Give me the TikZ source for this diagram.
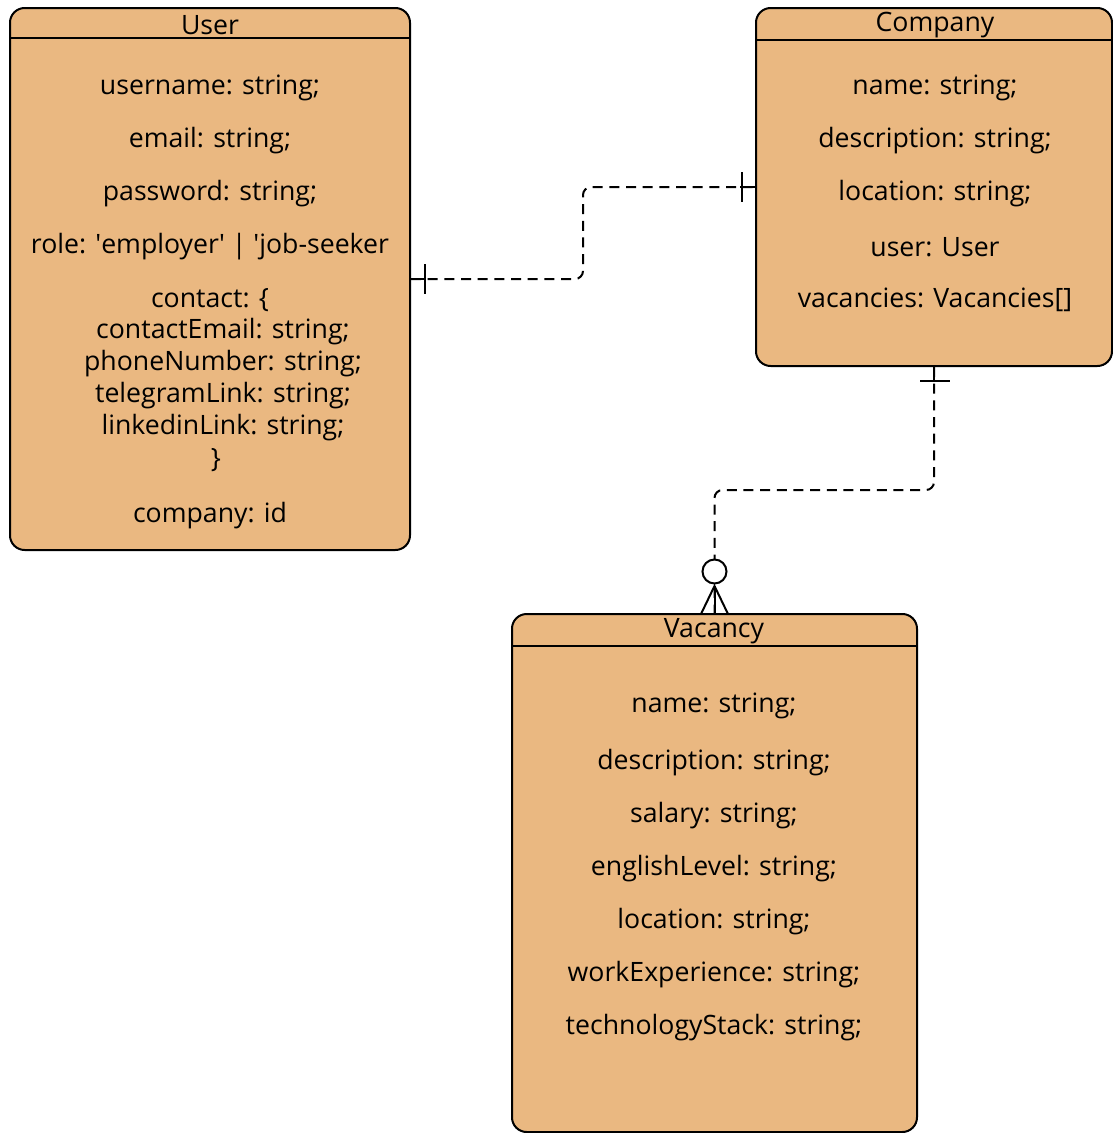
\documentclass[tikz,border=0pt]{standalone}
\usepackage{fontspec}
\setmainfont{Open Sans}
\definecolor{entfill}{RGB}{234,184,129}
\tikzset{every picture/.style={line width=1.5pt}}
\tikzset{
  entity/.style={draw, fill=entfill, rounded corners=11pt, inner sep=0pt},
  rel/.style={line width=1.5pt, dash pattern=on 7.5pt off 5pt},
  txt/.style={font=\fontsize{20}{24}\selectfont, inner sep=0pt, yshift=-2pt}
}

\begin{document}
\begin{tikzpicture}[x=0.75pt,y=0.75pt,yscale=-1,xscale=1]
	\useasboundingbox (0,0) rectangle (1113,1133);

	%Shape: Entity User
	\node[entity, minimum width=300pt, minimum height=406.5pt] (user) at (210,279) {};
	\draw (10,38) -- (410,38) ;
	%Shape: Entity Company
	\node[entity, minimum width=267pt, minimum height=268.5pt] (company) at (934,187) {};
	\draw (756,40) -- (1112,40) ;
	%Shape: Entity Vacancy
	\node[entity, minimum width=303.75pt, minimum height=388.5pt] (vacancy) at (714.5,873) {};
	\draw (512,646) -- (917,646) ;

	%Straight Lines: User -- Company
	\draw [rel, rounded corners=6pt] (user.east) -- (583,279) -- (583,187) -- (company.west) ;
	\draw (user.east) -- ++(15,0) ;
	\draw (425,264) -- (425,294) ;
	\draw (company.west) -- ++(-15,0) ;
	\draw (741.5,172) -- (741.5,202) ;
	%Straight Lines: Company -- Vacancy
	\draw [rel, rounded corners=6pt] (company.south) -- (934,490) -- (714.5,490) -- (vacancy.north) ;
	\draw (company.south) -- ++(0,15) ;
	\draw (920,380.5) -- (950,380.5) ;
	%Shape: Circle
	\draw [fill=white] (714.5,571.5) circle (9pt) ;
	\draw (701,614) -- (714.5,586) -- (728,614) ;
	\draw (714.5,586) -- (vacancy.north) ;

	% Text Node
	\draw (210,22) node [txt] (ut) {User};
	% Text Node
	\draw (210,85) node [txt] (u1) {username: string;};
	% Text Node
	\draw (210,138) node [txt] (u2) {email: string;};
	% Text Node
	\draw (210,191) node [txt] (u3) {password: string;};
	% Text Node
	\draw (210,244) node [txt] (u4) {role: \textquotesingle employer\textquotesingle\ | \textquotesingle job-seeker};
	% Text Node
	\draw (210,297) node [txt] (u5) {contact: \{};
	% Text Node
	\draw (223,329) node [txt] (u6) {contactEmail: string;};
	% Text Node
	\draw (223,361) node [txt] (u7) {phoneNumber: string;};
	% Text Node
	\draw (223,393) node [txt] (u8) {telegramLink: string;};
	% Text Node
	\draw (223,425) node [txt] (u9) {linkedinLink: string;};
	% Text Node
	\draw (216,457) node [txt] (u10) {\}};
	% Text Node
	\draw (210,513) node [txt] (u11) {company: id};

	% Text Node
	\draw (935,22) node [txt] (ct) {Company};
	% Text Node
	\draw (935,85) node [txt] (c1) {name: string;};
	% Text Node
	\draw (935,138) node [txt] (c2) {description: string;};
	% Text Node
	\draw (935,191) node [txt] (c3) {location: string;};
	% Text Node
	\draw (935,244) node [txt] (c4) {user: User};
	% Text Node
	\draw (935,297) node [txt] (c5) {vacancies: Vacancies[]};

	% Text Node
	\draw (714,629) node [txt] (vt) {Vacancy};
	% Text Node
	\draw (714,703) node [txt] (v1) {name: string;};
	% Text Node
	\draw (714,760) node [txt] (v2) {description: string;};
	% Text Node
	\draw (714,813) node [txt] (v3) {salary: string;};
	% Text Node
	\draw (714,866) node [txt] (v4) {englishLevel: string;};
	% Text Node
	\draw (714,919) node [txt] (v5) {location: string;};
	% Text Node
	\draw (714,972) node [txt] (v6) {workExperience: string;};
	% Text Node
	\draw (714,1025) node [txt] (v7) {technologyStack: string;};

\end{tikzpicture}
\end{document}
